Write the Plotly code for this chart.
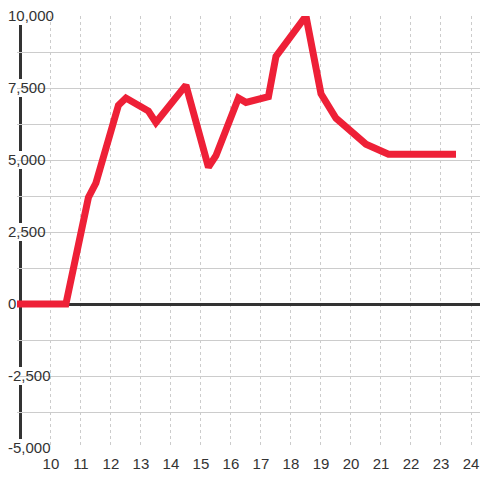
import plotly.graph_objects as go

# hours (x) and values (y)
hours = [8.87, 10.5, 11.25, 11.5, 12.25, 12.5, 13.25, 13.5, 14.5, 15.25, 15.5,
         16.25, 16.5, 17.25, 17.5, 18.5, 19.0, 19.5, 20.5, 21.25, 23.5]
values = [0, 0, 3700, 4200, 6900, 7150, 6700, 6300, 7600, 4750, 5150,
          7150, 7000, 7200, 8600, 10000, 7300, 6450, 5550, 5200, 5200]

x_ticks = list(range(10, 25))
y_ticks = [-5000, -2500, 0, 2500, 5000, 7500, 10000]
y_labels = ["-5,000", "-2,500", "0", "2,500", "5,000", "7,500", "10,000"]
y_minor = [(a + b) / 2 for a, b in zip(y_ticks[:-1], y_ticks[1:])]

RED = "#EE2037"
DARK = "#333333"
GRID = "#cccccc"
FONT = dict(family="Liberation Sans, Arial, sans-serif", size=15, color=DARK)
LABEL_STANDOFF = -12


def text_width(s):
    w = 0
    for ch in s:
        if ch.isdigit():
            w += 8.34
        elif ch == ",":
            w += 4.17
        else:
            w += 5.0
    return w


fig = go.Figure()
fig.add_trace(go.Scatter(
    x=hours, y=values, mode="lines",
    line=dict(color=RED, width=7),
    hoverinfo="skip", showlegend=False,
))

# dark vertical axis line, above gridlines
shapes = [dict(
    type="line", layer="between", xref="paper", yref="paper",
    xsizemode="pixel", xanchor=0, x0=3.5, x1=3.5, y0=0, y1=1,
    line=dict(color=DARK, width=3),
)]
# white boxes behind the y tick labels
for v, lab in zip(y_ticks, y_labels):
    shapes.append(dict(
        type="rect", layer="between", xref="paper", yref="y",
        xsizemode="pixel", xanchor=0, x0=-17,
        x1=LABEL_STANDOFF + 3 + text_width(lab),
        ysizemode="pixel", yanchor=v, y0=-9, y1=9,
        fillcolor="white", line=dict(width=0),
    ))

fig.update_layout(
    width=480, height=480,
    margin=dict(l=17, r=0, t=16, b=32),
    paper_bgcolor="white", plot_bgcolor="white",
    font=FONT,
    shapes=shapes,
    xaxis=dict(
        range=[8.87, 24.3], tickmode="array", tickvals=x_ticks,
        showgrid=True, gridcolor=GRID, gridwidth=1, griddash="3px,3px",
        zeroline=False, showline=False, ticks="",
        ticklabelstandoff=5,
        tickfont=FONT,
    ),
    yaxis=dict(
        range=[-5000, 10000], tickmode="array", tickvals=y_ticks, ticktext=y_labels,
        showgrid=True, gridcolor=GRID, gridwidth=1,
        minor=dict(tickmode="array", tickvals=y_minor, showgrid=True,
                   gridcolor=GRID, gridwidth=1, ticks=""),
        zeroline=True, zerolinecolor=DARK, zerolinewidth=3,
        showline=False, ticks="",
        ticklabelposition="inside", ticklabeloverflow="allow",
        ticklabelstandoff=LABEL_STANDOFF,
        tickfont=FONT,
    ),
)

fig.write_html("out.html", config={"displayModeBar": False},
               post_script="document.body.style.margin='0';")
